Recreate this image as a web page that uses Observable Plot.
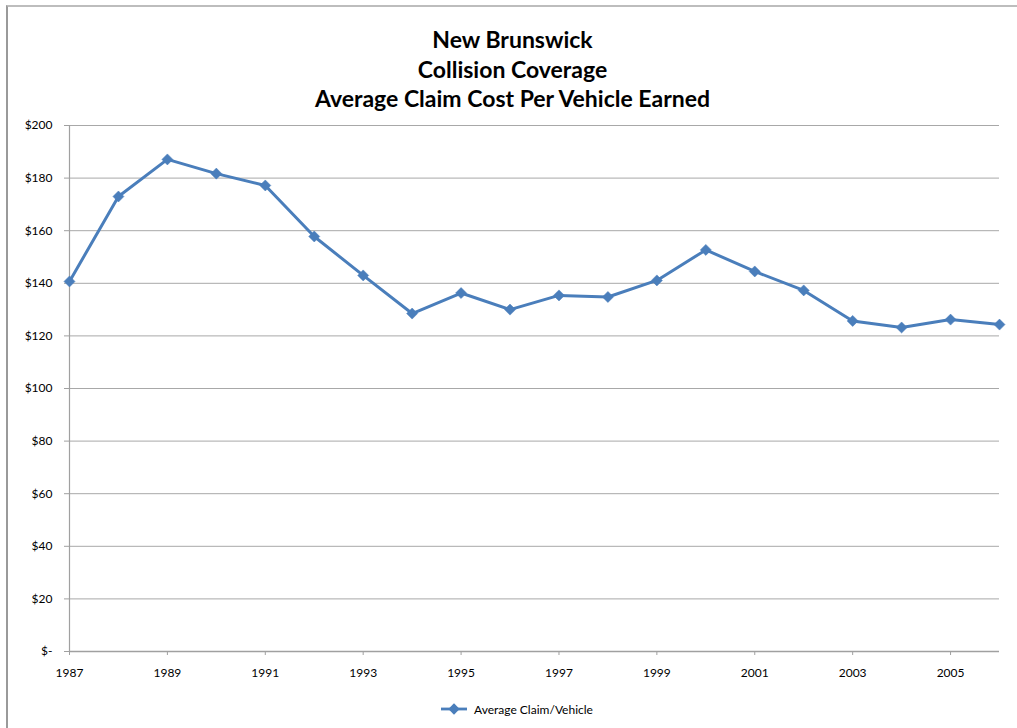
<!DOCTYPE html>
<html>
<head>
<meta charset="utf-8">
<script src="https://cdn.jsdelivr.net/npm/d3@7"></script>
<script src="https://cdn.jsdelivr.net/npm/@observablehq/plot@0.6"></script>
<style>
  html, body { margin: 0; padding: 0; background: #fff; }
  body { width: 1017px; height: 728px; overflow: hidden; position: relative; font-family: Lato, "Open Sans", sans-serif; }
  #frame { position: absolute; left: 6px; top: 5px; width: 1020px; height: 740px;
           border-top: 2px solid #bdbdbd; border-left: 2px solid #9a9a9a; }
  #title { width: 1009px; height: 90px; padding-top: 18px; text-align: center; font-weight: bold;
           font-size: 23px; line-height: 29.5px; color: #000; }
  #legend { width: 1009px; height: 38px; display: flex; align-items: center; justify-content: center;
            font-size: 12px; color: #000; padding-left: 8px; box-sizing: border-box; }
  #legend svg { margin-right: 6px; }
</style>
</head>
<body>
<div id="frame">
  <div id="title">New Brunswick<br>Collision Coverage<br>Average Claim Cost Per Vehicle Earned</div>
  <div id="chart"></div>
  <div id="legend"></div>
</div>
<script>
const years = [1987, 1988, 1989, 1990, 1991, 1992, 1993, 1994, 1995, 1996, 1997, 1998, 1999, 2000, 2001, 2002, 2003, 2004, 2005, 2006];
const avgClaim = [140.7, 173.0, 187.1, 181.7, 177.2, 157.8, 143.0, 128.5, 136.3, 130.0, 135.4, 134.8, 141.1, 152.7, 144.5, 137.3, 125.7, 123.2, 126.2, 124.3];
const yTicks = [0, 20, 40, 60, 80, 100, 120, 140, 160, 180, 200];
const xTicks = [1987, 1989, 1991, 1993, 1995, 1997, 1999, 2001, 2003, 2005];
const seriesName = "Average Claim/Vehicle";
const lineColor = "#4a7ebb";

const data = years.map((y, i) => ({year: y, value: avgClaim[i]}));

const chart = Plot.plot({
  width: 1009,
  height: 575,
  marginLeft: 61,
  marginRight: 18,
  marginTop: 10,
  marginBottom: 39,
  style: {fontFamily: "Lato, 'Open Sans', sans-serif", fontSize: "12px", color: "#000", background: "transparent"},
  x: {domain: [1987, 2006], type: "linear"},
  y: {domain: [0, 200]},
  marks: [
    Plot.gridY(yTicks, {stroke: "#a8a8a8", strokeOpacity: 1, strokeWidth: 1}),
    Plot.ruleX([1987], {stroke: "#a0a0a0", strokeWidth: 1.2}),
    Plot.ruleY([0], {stroke: "#a0a0a0", strokeWidth: 1.5}),
    Plot.axisY(yTicks, {tickSize: 5, tickPadding: 12, stroke: "#a0a0a0", fill: "#000",
      tickFormat: d => d === 0 ? "$-" : "$" + d, label: null}),
    Plot.axisX(xTicks, {tickSize: 4, tickPadding: 13, stroke: "#a0a0a0", fill: "#000",
      tickFormat: d => String(d), label: null}),
    Plot.line(data, {x: "year", y: "value", stroke: lineColor, strokeWidth: 3}),
    Plot.dot(data, {x: "year", y: "value", symbol: "square", rotate: 45, r: 4.4, fill: lineColor, stroke: lineColor, strokeWidth: 0.5})
  ]
});
document.getElementById("chart").appendChild(chart);

// legend
const leg = document.getElementById("legend");
const ns = "http://www.w3.org/2000/svg";
const s = document.createElementNS(ns, "svg");
s.setAttribute("width", 28); s.setAttribute("height", 12);
s.innerHTML = `<line x1="1" y1="6" x2="27" y2="6" stroke="${lineColor}" stroke-width="2.8"/>` +
  `<rect x="10" y="2" width="8" height="8" fill="${lineColor}" transform="rotate(45 14 6)" />`;
leg.appendChild(s);
const t = document.createElement("span");
t.textContent = seriesName;
leg.appendChild(t);
</script>
</body>
</html>
